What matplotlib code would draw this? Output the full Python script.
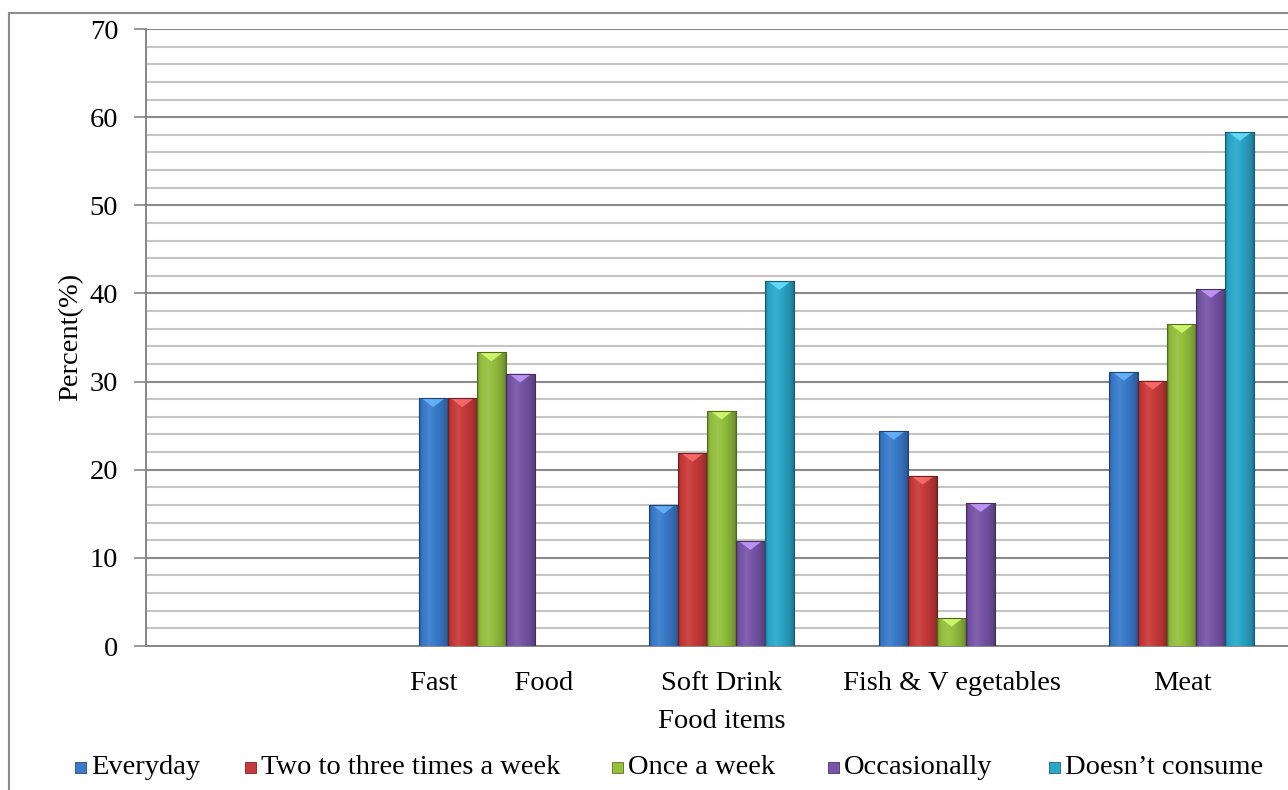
import numpy as np
import matplotlib
matplotlib.use("Agg")
import matplotlib.pyplot as plt
from matplotlib.patches import Rectangle, Polygon
from matplotlib.lines import Line2D
import matplotlib.colors as mcolors

# ---- data ----
categories = ["", "Fast        Food", "Soft Drink", "Fish & V egetables", "Meat"]
series_names = ["Everyday", "Two to three times a week", "Once a week",
                "Occasionally", "Doesn\u2019t consume"]
everyday = [0, 28.1, 16.0, 24.4, 31.1]
two_three = [0, 28.1, 21.9, 19.3, 30.1]
once_week = [0, 33.3, 26.7, 3.2, 36.5]
occasionally = [0, 30.9, 11.9, 16.2, 40.5]
doesnt_consume = [0, 0, 41.4, 0, 58.3]
series_values = [everyday, two_three, once_week, occasionally, doesnt_consume]
colors = ["#3a7bcc", "#c93a3a", "#94c03e", "#7855a8", "#2aa8ca"]
top_colors = ["#6ab8ff", "#ff7070", "#d6ff70", "#c89cff", "#6ae0ff"]
yticks = [0, 10, 20, 30, 40, 50, 60, 70]

plt.rcParams['font.family'] = ['Liberation Serif', 'DejaVu Serif']
FS = 20.5

W, H = 1288, 790
fig = plt.figure(figsize=(W / 100, H / 100), dpi=100)
left_px, right_px, top_px, bot_px = 146, 1297, 29, 646
ax = fig.add_axes([left_px / W, 1 - bot_px / H, (right_px - left_px) / W,
                   (bot_px - top_px) / H])

x = np.arange(len(categories))
bw = 0.126
n = len(series_values)


def shade(c, f):
    rgb = np.array(mcolors.to_rgb(c))
    if f >= 1:
        return rgb + (1 - rgb) * (f - 1)
    return rgb * f


prof_t = [0.0, 0.08, 0.35, 0.75, 0.92, 1.0]
prof_f = [0.7, 0.95, 1.08, 0.9, 0.78, 0.6]
tt = np.linspace(0, 1, 60)
ff = np.interp(tt, prof_t, prof_f)

for i, (vals, col, tcol) in enumerate(zip(series_values, colors, top_colors)):
    pos = x + (i - (n - 1) / 2) * bw
    bars = ax.bar(pos, vals, width=bw, color=col, edgecolor='none', zorder=3)
    for rect, v in zip(bars, vals):
        if v <= 0:
            continue
        x0 = rect.get_x()
        x1 = x0 + rect.get_width()
        img = np.array([[shade(col, f) for f in ff]])
        im = ax.imshow(img, extent=(x0, x1, 0, v), aspect='auto', zorder=4,
                       interpolation='bilinear')
        im.set_clip_path(rect)
        d = min(1.0, v * 0.4)
        tri = Polygon([(x0 + 0.1 * bw, v), (x1 - 0.1 * bw, v), ((x0 + x1) / 2, v - d)],
                      closed=True, facecolor=tcol, edgecolor='none', alpha=0.85, zorder=5)
        ax.add_patch(tri)
        ax.plot([x0, x0, x1, x1], [0, v, v, 0], color=shade(col, 0.55), lw=0.8, zorder=6)

ax.set_xlim(-0.5, len(categories) - 0.5)
ax.set_ylim(0, 70)
ax.set_yticks(yticks)
ax.set_yticks(np.arange(0, 71, 2), minor=True)
ax.set_xticks(x)
ax.set_xticklabels(categories, fontsize=FS)
ax.tick_params(axis='x', length=0, pad=18)
ax.tick_params(axis='y', which='major', length=9, width=1.2, color='#868686',
               labelsize=FS, pad=11)
ax.tick_params(axis='y', which='minor', length=0)
ax.grid(axis='y', which='major', color='#8a8a8a', lw=1.5, zorder=0)
ax.grid(axis='y', which='minor', color='#c4c4c4', lw=1.5, zorder=0)
ax.set_axisbelow(True)
for s in ['top', 'right']:
    ax.spines[s].set_visible(False)
ax.spines['left'].set_color('#868686')
ax.spines['left'].set_linewidth(1.4)
ax.spines['bottom'].set_color('#868686')
ax.spines['bottom'].set_linewidth(1.4)

ax.set_ylabel("Percent(%)", fontsize=FS)
ax.yaxis.set_label_coords(-(146 - 83) / (right_px - left_px), (646 - 337) / (646 - 29))
ax.set_xlabel("Food items", fontsize=FS, labelpad=9)

# legend entries (layout positions in pixels)
leg_x = [75, 245, 612, 828, 1049]
leg_y = 767
for lx, name, col in zip(leg_x, series_names, colors):
    sq = 11
    fig.add_artist(Rectangle((lx / W, (H - leg_y - sq / 2) / H), sq / W, sq / H,
                             transform=fig.transFigure, facecolor=col,
                             edgecolor=shade(col, 0.6), lw=0.6))
    fig.text((lx + sq + 5) / W, 1 - leg_y / H, name, fontsize=FS, ha='left',
             va='center')

# outer chart border (cropped)
fig.add_artist(Line2D([9 / W, 9 / W], [0, 1 - 13 / H], transform=fig.transFigure,
                      color='#8c8c8c', lw=1.5))
fig.add_artist(Line2D([9 / W, 1], [1 - 13 / H, 1 - 13 / H], transform=fig.transFigure,
                      color='#8c8c8c', lw=1.5))

fig.savefig("out.png", dpi=100)
